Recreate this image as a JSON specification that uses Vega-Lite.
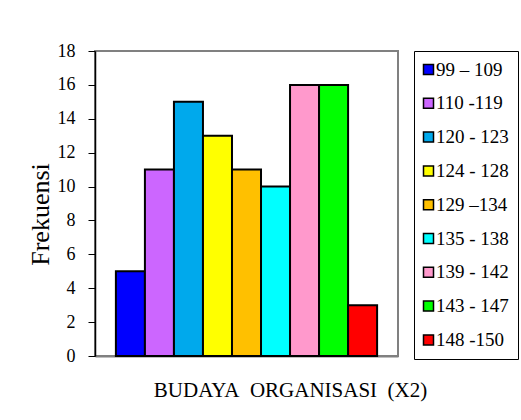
{
  "$schema": "https://vega.github.io/schema/vega-lite/v6.json",
  "width": 303,
  "height": 305,
  "autosize": "none",
  "padding": {"left": 95, "top": 51, "right": 123, "bottom": 64},
  "background": "white",
  "data": {
    "values": [
      {"kelas": "99 – 109", "frekuensi": 5},
      {"kelas": "110 -119", "frekuensi": 11},
      {"kelas": "120 - 123", "frekuensi": 15},
      {"kelas": "124 - 128", "frekuensi": 13},
      {"kelas": "129 –134", "frekuensi": 11},
      {"kelas": "135 - 138", "frekuensi": 10},
      {"kelas": "139 - 142", "frekuensi": 16},
      {"kelas": "143 - 147", "frekuensi": 16},
      {"kelas": "148 -150", "frekuensi": 3}
    ]
  },
  "mark": {"type": "bar", "stroke": "black", "strokeWidth": 2},
  "encoding": {
    "x": {
      "field": "kelas",
      "type": "nominal",
      "sort": null,
      "scale": {"paddingInner": 0, "paddingOuter": 0.72},
      "axis": {
        "title": "BUDAYA\u00a0 ORGANISASI\u00a0 (X2)",
        "labels": false,
        "ticks": false,
        "domainColor": "#808080",
        "domainWidth": 2,
        "titleFont": "Liberation Serif",
        "titleFontSize": 21,
        "titleFontWeight": "normal",
        "titleColor": "black",
        "titlePadding": 23,
        "titleX": 195
      }
    },
    "y": {
      "field": "frekuensi",
      "type": "quantitative",
      "scale": {"domain": [0, 18]},
      "axis": {
        "title": "Frekuensi",
        "values": [0, 2, 4, 6, 8, 10, 12, 14, 16, 18],
        "grid": false,
        "domainColor": "black",
        "domainWidth": 1.5,
        "tickColor": "black",
        "tickSize": 7,
        "labelFont": "Liberation Serif",
        "labelFontSize": 18,
        "labelColor": "black",
        "labelPadding": 13,
        "titleFont": "Liberation Serif",
        "titleFontSize": 26,
        "titleFontWeight": "normal",
        "titleColor": "black",
        "titlePadding": 4,
        "titleY": 163
      }
    },
    "color": {
      "field": "kelas",
      "type": "nominal",
      "sort": null,
      "scale": {
        "domain": ["99 – 109", "110 -119", "120 - 123", "124 - 128", "129 –134", "135 - 138", "139 - 142", "143 - 147", "148 -150"],
        "range": ["#0000FF", "#CC66FF", "#00A9EC", "#FFFF00", "#FFC000", "#00FFFF", "#FF99CC", "#00FF00", "#FF0000"]
      },
      "legend": {
        "title": null,
        "orient": "right",
        "offset": 16,
        "strokeColor": "black",
        "padding": 9,
        "rowPadding": 13.8,
        "symbolType": "square",
        "symbolSize": 100,
        "symbolOffset": -4,
        "symbolStrokeColor": "black",
        "symbolStrokeWidth": 1.5,
        "symbolOpacity": 1,
        "labelFont": "Liberation Serif",
        "labelFontSize": 19,
        "labelColor": "black",
        "labelOffset": -2
      }
    }
  },
  "config": {
    "font": "Liberation Serif",
    "view": {"stroke": "#808080", "strokeWidth": 2}
  }
}
